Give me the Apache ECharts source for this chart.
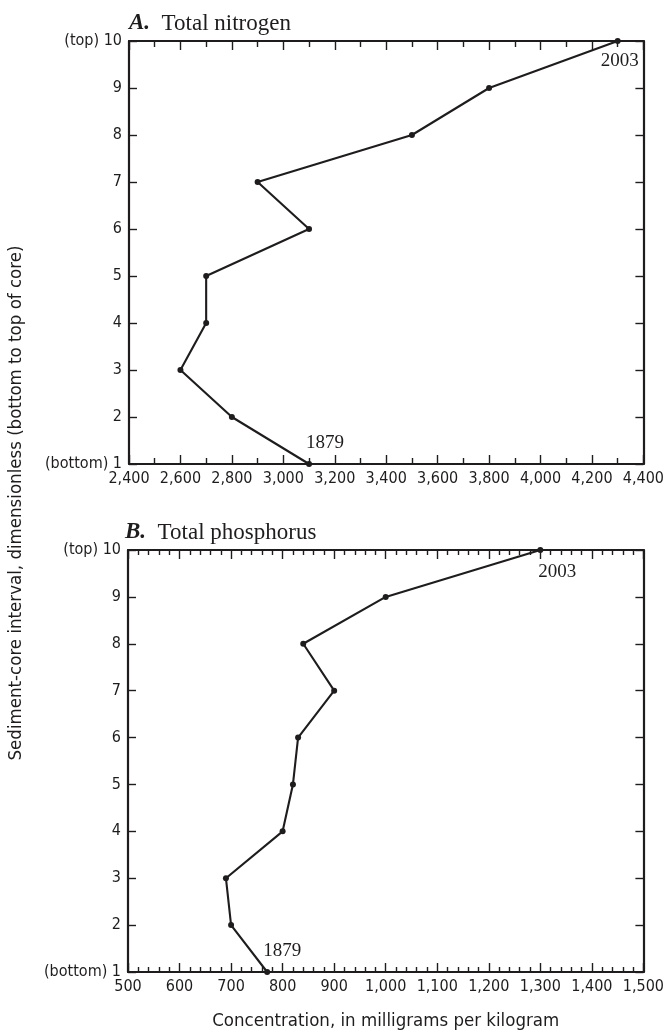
<!DOCTYPE html>
<html>
<head>
<meta charset="utf-8">
<script src="https://cdn.jsdelivr.net/npm/echarts@6/dist/echarts.min.js"></script>
<style>
html,body{margin:0;padding:0;background:#fff;}
#c{width:667px;height:1032px;}
</style>
</head>
<body>
<div id="c"></div>
<script>
// ---- Data ----
const intervals = [1, 2, 3, 4, 5, 6, 7, 8, 9, 10];
const nitrogen = [3100, 2800, 2600, 2700, 2700, 3100, 2900, 3500, 3800, 4300];
const phosphorus = [770, 700, 690, 800, 820, 830, 900, 840, 1000, 1300];
const bottomYear = '1879';
const topYear = '2003';
const titleA = ['A.', 'Total nitrogen'];
const titleB = ['B.', 'Total phosphorus'];
const yTitle = 'Sediment-core interval, dimensionless (bottom to top of core)';
const xTitle = 'Concentration, in milligrams per kilogram';

const NARROW = "'Liberation Sans Narrow', 'Arial Narrow', 'DejaVu Sans Condensed', sans-serif";
const SERIF = "'Liberation Serif', 'Times New Roman', 'DejaVu Serif', serif";
const INK = '#1f1c1d';

function yLabel(v) {
  if (v === 10) return '(top) 10';
  if (v === 1) return '(bottom) 1';
  return String(v);
}
function thousands(v) {
  return String(v).replace(/\B(?=(\d{3})+(?!\d))/g, ',');
}

function buildSeries(values, gridIdx, topOff, botOff) {
  return {
    type: 'line',
    xAxisIndex: gridIdx * 2,
    yAxisIndex: gridIdx * 2,
    data: values.map((v, i) => {
      const item = { value: [v, intervals[i]] };
      if (intervals[i] === 1) {
        item.label = { show: true, formatter: bottomYear, position: 'top', distance: botOff[1], offset: [botOff[0], 0] };
      } else if (intervals[i] === 10) {
        item.label = { show: true, formatter: topYear, position: 'bottom', distance: topOff[1], offset: [topOff[0], 0] };
      }
      return item;
    }),
    symbol: 'circle',
    symbolSize: 6,
    lineStyle: { color: INK, width: 2.1 },
    itemStyle: { color: INK },
    label: { fontFamily: SERIF, fontSize: 19, color: INK },
    emphasis: { disabled: true },
    z: 5
  };
}

const axisLine = { show: true, onZero: false, lineStyle: { color: INK, width: 2.2 } };

function xAxes(gridIdx, min, max, interval, minorSplit, majorLen, minorLen, withName) {
  const base = {
    type: 'value', gridIndex: gridIdx, min: min, max: max, interval: interval,
    splitLine: { show: false },
    axisLine: axisLine,
    axisTick: { show: true, inside: true, length: majorLen, lineStyle: { color: INK, width: 1.4 } },
    minorTick: { show: true, splitNumber: minorSplit, length: minorLen, lineStyle: { color: INK, width: 1.4 } }
  };
  const bottom = Object.assign({}, base, {
    position: 'bottom',
    axisLabel: { show: true, formatter: thousands, fontFamily: NARROW, fontSize: 16, color: INK, margin: 7, showMinLabel: true, showMaxLabel: true }
  });
  if (withName) {
    Object.assign(bottom, {
      name: xTitle, nameLocation: 'middle', nameGap: 40,
      nameTextStyle: { fontFamily: NARROW, fontSize: 18.5, color: INK }
    });
  }
  const top = Object.assign({}, base, { position: 'top', axisLabel: { show: false } });
  return [bottom, top];
}

function yAxes(gridIdx) {
  const base = {
    type: 'value', gridIndex: gridIdx, min: 1, max: 10, interval: 1,
    splitLine: { show: false },
    axisLine: axisLine,
    axisTick: { show: true, inside: true, length: 8, lineStyle: { color: INK, width: 1.4 } }
  };
  const left = Object.assign({}, base, {
    position: 'left',
    axisLabel: { show: true, formatter: yLabel, fontFamily: NARROW, fontSize: 16, color: INK, margin: 7 }
  });
  const right = Object.assign({}, base, { position: 'right', axisLabel: { show: false } });
  return [left, right];
}

const grids = [
  { left: 129, right: 21, top: 41, height: 423 },
  { left: 128, right: 22, top: 550, height: 422 }
];

const chart = echarts.init(document.getElementById('c'), null, { renderer: 'canvas' });
chart.setOption({
  animation: false,
  backgroundColor: '#fff',
  title: [
    {
      text: '{a|' + titleA[0] + '}  ' + titleA[1],
      left: 129, top: 12, padding: 0,
      textStyle: { fontFamily: SERIF, fontSize: 23, fontWeight: 'normal', color: INK,
        rich: { a: { fontFamily: SERIF, fontSize: 23, fontWeight: 'bold', fontStyle: 'italic', color: INK } } }
    },
    {
      text: '{a|' + titleB[0] + '}  ' + titleB[1],
      left: 125, top: 521, padding: 0,
      textStyle: { fontFamily: SERIF, fontSize: 23, fontWeight: 'normal', color: INK,
        rich: { a: { fontFamily: SERIF, fontSize: 23, fontWeight: 'bold', fontStyle: 'italic', color: INK } } }
    }
  ],
  grid: grids,
  xAxis: [].concat(
    xAxes(0, 2400, 4400, 200, 2, 9, 6, false),
    xAxes(1, 500, 1500, 100, 5, 9, 5, true)
  ),
  yAxis: [].concat(yAxes(0), yAxes(1)),
  series: [
    buildSeries(nitrogen, 0, [2, 8], [16, 8]),
    buildSeries(phosphorus, 1, [17, 10], [15, 8])
  ],
  graphic: [
    {
      type: 'text',
      x: 16, y: 503,
      rotation: Math.PI / 2,
      style: { text: yTitle, fontFamily: NARROW, fontSize: 18.5, fill: INK, align: 'center', verticalAlign: 'middle' }
    }
  ]
});
</script>
</body>
</html>
